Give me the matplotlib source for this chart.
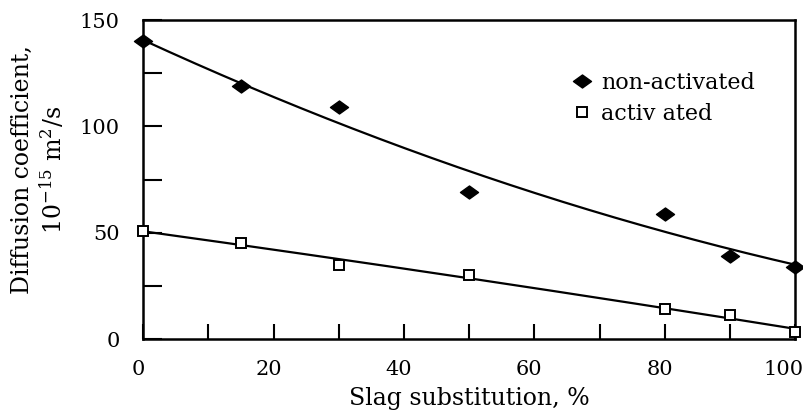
import numpy as np
import matplotlib
matplotlib.use("Agg")
import matplotlib.pyplot as plt
from matplotlib.path import Path
from matplotlib.transforms import ScaledTranslation

# Data
slag = [0, 15, 30, 50, 80, 90, 100]
non_activated = [140, 119, 109, 69, 59, 39, 34]
activated = [51, 45, 35, 30, 14, 11.5, 3.5]
x_ticklabels = ["0", "20", "40", "60", "80", "100"]
y_ticklabels = ["0", "50", "100", "150"]

plt.rcParams['font.family'] = ['DejaVu Serif']
plt.rcParams['mathtext.fontset'] = 'dejavuserif'

fig = plt.figure(figsize=(8.04, 4.17), dpi=100)
ax = fig.add_axes([0.178, 0.187, 0.811, 0.765])

diamond = Path([(-1, 0), (0, 0.72), (1, 0), (0, -0.72), (-1, 0)],
               [Path.MOVETO, Path.LINETO, Path.LINETO, Path.LINETO, Path.CLOSEPOLY])

xs = np.linspace(0, 100, 200)
p1 = np.polyfit(slag, non_activated, 2)
p2 = np.polyfit(slag, activated, 2)
ax.plot(xs, np.polyval(p1, xs), color='black', lw=1.6, zorder=2)
ax.plot(xs, np.polyval(p2, xs), color='black', lw=1.6, zorder=2)

ax.plot(slag, non_activated, linestyle='none', marker=diamond, ms=13,
        color='black', label='non-activated', zorder=3, clip_on=False)
ax.plot(slag, activated, linestyle='none', marker='s', ms=6.5,
        mfc='white', mec='black', mew=1.4, label='activ ated', zorder=3, clip_on=False)

ax.set_xlim(0, 100)
ax.set_ylim(0, 150)
ax.set_xticks([0, 20, 40, 60, 80, 100])
ax.set_xticklabels(x_ticklabels)
ax.set_xticks([10, 30, 50, 70, 90], minor=True)
ax.set_yticks([0, 50, 100, 150])
ax.set_yticklabels(y_ticklabels)
ax.set_yticks([25, 75, 125], minor=True)

ax.tick_params(axis='both', which='both', direction='in', width=1.5,
               labelsize=15)
ax.tick_params(axis='x', which='both', length=11, pad=15)
ax.tick_params(axis='y', which='both', length=14, pad=17)
for s in ax.spines.values():
    s.set_linewidth(1.8)

for i, lab in enumerate(ax.get_xticklabels()):
    dx = -12 if i == len(x_ticklabels) - 1 else -5
    lab.set_transform(lab.get_transform() + ScaledTranslation(dx / 100, 0, fig.dpi_scale_trans))

ax.set_xlabel("Slag substitution, %", fontsize=17, labelpad=6)
ax.set_ylabel("Diffusion coefficient,\n10$^{-15}$ m$^2$/s", fontsize=17,
              labelpad=9, linespacing=1.2, y=0.53)

ax.legend(loc='upper left', bbox_to_anchor=(0.622, 0.9), frameon=False,
          fontsize=16, handletextpad=0.25, labelspacing=0.4, handlelength=1.2)

fig.savefig("out.png", dpi=100)
